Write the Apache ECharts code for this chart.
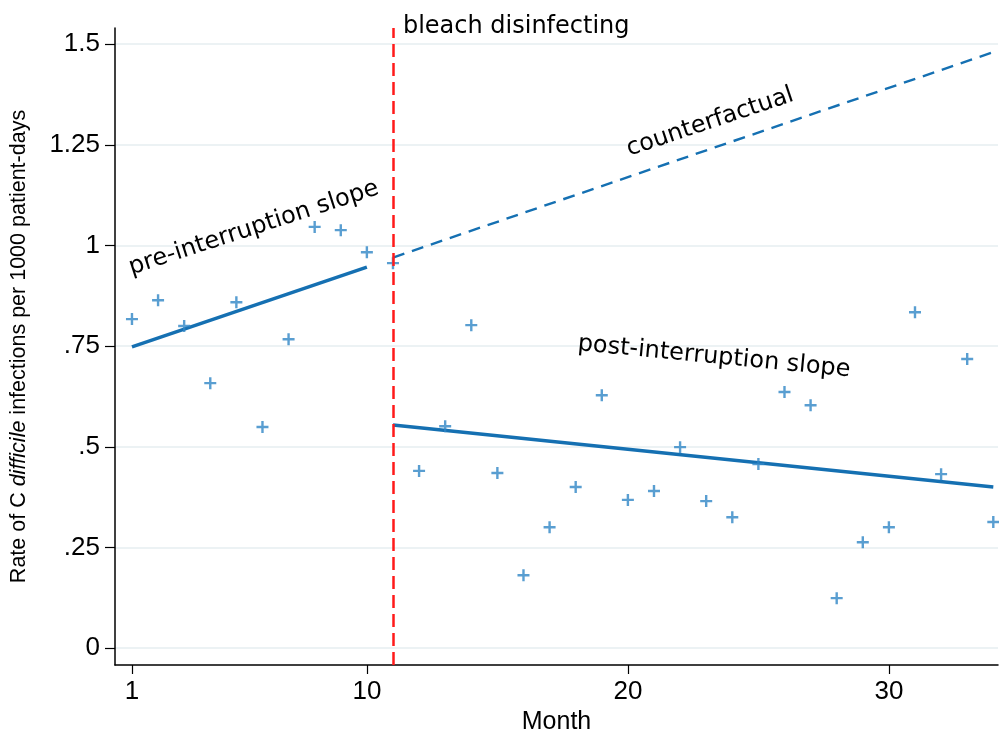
<!DOCTYPE html>
<html>
<head>
<meta charset="utf-8">
<script src="https://cdn.jsdelivr.net/npm/echarts@6/dist/echarts.min.js"></script>
<style>
html,body{margin:0;padding:0;background:#fff;}
#chart{width:999px;height:731px;}
</style>
</head>
<body>
<div id="chart"></div>
<script>
// ---- data ----
var months = [1,2,3,4,5,6,7,8,9,10,11,12,13,14,15,16,17,18,19,20,21,22,23,24,25,26,27,28,29,30,31,32,33,34];
var rates = [0.817,0.864,0.800,0.658,0.859,0.549,0.767,1.046,1.038,0.983,0.956,0.440,0.551,0.802,0.435,0.181,0.300,0.400,0.628,0.368,0.390,0.499,0.365,0.325,0.457,0.636,0.603,0.124,0.263,0.300,0.834,0.432,0.718,0.313];
var preFitX = [1, 10];
var preFitY = [0.748, 0.946];
var counterX = [11, 34];
var counterY = [0.970, 1.480];
var postFitX = [11, 34];
var postFitY = [0.554, 0.400];
var interruptionMonth = 11;
var xTicks = [1, 10, 20, 30];
var yTicks = [0, 0.25, 0.5, 0.75, 1, 1.25, 1.5];
var yTickLabels = ['0', '.25', '.5', '.75', '1', '1.25', '1.5'];
var annotations = [
  {text: 'pre-interruption slope', x: 5.67, y: 1.043, angle: 18},
  {text: 'counterfactual', x: 23.15, y: 1.306, angle: 18.5},
  {text: 'post-interruption slope', x: 23.3, y: 0.723, angle: -5.5}
];
var eventLabel = {text: 'bleach disinfecting', x: 11.38, y: 1.542};

function pairs(xs, ys){ return xs.map(function(x,i){ return [x, ys[i]]; }); }

var chart = echarts.init(document.getElementById('chart'));
var plusPath = 'path://M4.8,0h2.4v4.8h4.8v2.4h-4.8v4.8h-2.4v-4.8h-4.8v-2.4h4.8z';
var lineBlue = '#1570b2';
var markBlue = '#2f86c6';
var axisFont = '"Liberation Sans", Arial, sans-serif';
var annFont = '"DejaVu Sans", Verdana, sans-serif';

var option = {
  animation: false,
  backgroundColor: '#ffffff',
  grid: {left: 115, right: 1, top: 28, bottom: 66, containLabel: false, outerBoundsMode: 'none'},
  xAxis: {
    type: 'value', min: 0.35, max: 34.18,
    name: 'Month', nameLocation: 'middle', nameGap: 42,
    nameTextStyle: {fontFamily: axisFont, fontSize: 25, color: '#000'},
    axisLine: {show: true, onZero: false, lineStyle: {color: '#000', width: 1.5}},
    axisTick: {show: true, inside: false, length: 9, customValues: xTicks, lineStyle: {color: '#000', width: 1.2}},
    axisLabel: {customValues: xTicks, fontFamily: axisFont, fontSize: 26, color: '#000', margin: 14},
    splitLine: {show: false}
  },
  yAxis: {
    type: 'value', min: -0.042, max: 1.54,
    name: '{n|Rate of C }{i|difficile}{n| infections per 1000 patient-days}',
    nameLocation: 'middle', nameGap: 85, nameRotate: 90,
    nameTextStyle: {
      rich: {
        n: {fontFamily: axisFont, fontSize: 21.5, color: '#000'},
        i: {fontFamily: axisFont, fontSize: 21.5, fontStyle: 'italic', color: '#000'}
      }
    },
    axisLine: {show: true, onZero: false, lineStyle: {color: '#000', width: 1.5}},
    axisTick: {show: true, inside: false, length: 10, customValues: yTicks, lineStyle: {color: '#000', width: 1.2}},
    axisLabel: {
      customValues: yTicks, fontFamily: axisFont, fontSize: 26, color: '#000', margin: 15,
      formatter: function(v){ var i = yTicks.indexOf(v); return i >= 0 ? yTickLabels[i] : ''; }
    },
    splitLine: {show: true, lineStyle: {color: '#e6eef1', width: 1.5}}
  },
  series: [
    {
      type: 'line', data: pairs(preFitX, preFitY), symbol: 'none',
      lineStyle: {color: lineBlue, width: 3.5}, z: 3
    },
    {
      type: 'line', data: pairs(counterX, counterY), symbol: 'none',
      lineStyle: {color: lineBlue, width: 2.4, type: [12, 8]}, z: 3
    },
    {
      type: 'line', data: pairs(postFitX, postFitY), symbol: 'none',
      lineStyle: {color: lineBlue, width: 3.5}, z: 3,
      markLine: {
        silent: true, symbol: 'none', label: {show: false},
        lineStyle: {color: '#ff1a1a', width: 2.5, type: [13, 6]},
        data: [{xAxis: interruptionMonth}]
      }
    },
    {
      type: 'scatter', data: pairs(months, rates), symbol: plusPath, symbolSize: 12,
      itemStyle: {color: markBlue}, z: 4
    }
  ]
};
chart.setOption(option);

var g = annotations.map(function(a){
  var p = chart.convertToPixel({gridIndex: 0}, [a.x, a.y]);
  return {
    type: 'text', x: p[0], y: p[1], rotation: a.angle * Math.PI / 180,
    style: {text: a.text, font: '24px ' + annFont, fill: '#000', align: 'center', verticalAlign: 'middle'}
  };
});
var ep = chart.convertToPixel({gridIndex: 0}, [eventLabel.x, eventLabel.y]);
g.push({
  type: 'text', x: ep[0], y: ep[1],
  style: {text: eventLabel.text, font: '24px ' + annFont, fill: '#000', align: 'left', verticalAlign: 'middle'}
});
chart.setOption({graphic: g});
</script>
</body>
</html>
